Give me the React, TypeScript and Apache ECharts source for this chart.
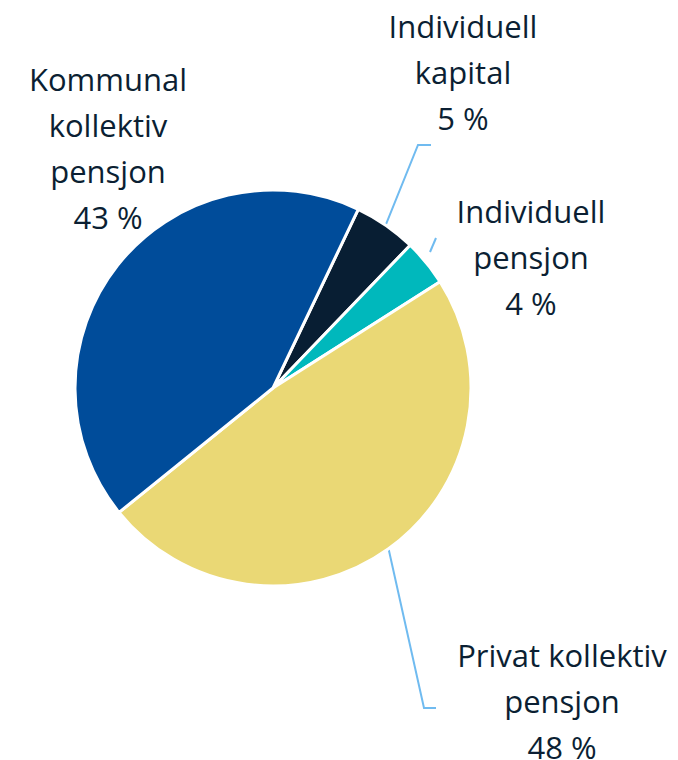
import React, { useEffect, useRef } from "react";
import * as echarts from "echarts";

// Data (clockwise from the navy slice)
const categories = [
  "Individuell\nkapital",
  "Individuell\npensjon",
  "Privat kollektiv\npensjon",
  "Kommunal\nkollektiv\npensjon",
];
const shares = [5.1, 3.8, 48.2, 42.9];
const sliceColors = ["#081E33", "#00B8BC", "#EAD875", "#004C9A"];

// Label placement (layout only)
const labelPlacement: {
  x: number;
  y: number;
  start?: number[];
  bend?: number[];
  end?: number[];
  noLine?: boolean;
}[] = [
  { x: 463, y: 72, bend: [418, 145], end: [431, 145] },
  { x: 531, y: 257, start: [430, 252], bend: [436, 238], end: [436, 238] },
  { x: 562, y: 701, bend: [424, 708], end: [436, 708] },
  { x: 108, y: 148, noLine: true },
];

export default function App() {
  const ref = useRef<HTMLDivElement>(null);
  useEffect(() => {
    document.body.style.margin = "0";
    if (!ref.current) return;
    const chart = echarts.init(ref.current, null, { renderer: "svg" });
    chart.setOption({
      animation: false,
      backgroundColor: "#ffffff",
      series: [
        {
          type: "pie",
          center: [273, 388],
          radius: [0, 198],
          startAngle: 64.5,
          clockwise: true,
          avoidLabelOverlap: false,
          itemStyle: { borderColor: "#ffffff", borderWidth: 3 },
          label: {
            show: true,
            position: "outside",
            color: "#0B1F33",
            fontFamily: "Open Sans",
            fontSize: 31,
            lineHeight: 46,
            align: "center",
            formatter: (p: any) => `${p.name}\n${Math.round(p.value)} %`,
          },
          labelLine: {
            show: true,
            lineStyle: { color: "#70BBF0", width: 2 },
          },
          labelLayout: (params: any) => {
            const pl = labelPlacement[params.dataIndex];
            const res: any = {
              x: pl.x,
              y: pl.y,
              align: "center",
              verticalAlign: "middle",
            };
            if (!pl.noLine && params.labelLinePoints) {
              const p0 = pl.start || params.labelLinePoints[0];
              res.labelLinePoints = [p0, pl.bend, pl.end];
            }
            return res;
          },
          data: categories.map((name, i) => ({
            name,
            value: shares[i],
            itemStyle: { color: sliceColors[i] },
            labelLine: { show: !labelPlacement[i].noLine },
          })),
        },
      ],
    });
    return () => chart.dispose();
  }, []);
  return <div ref={ref} style={{ width: 678, height: 760 }} />;
}
